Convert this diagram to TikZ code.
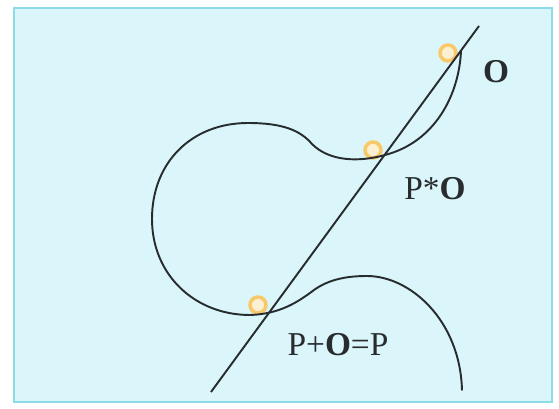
\documentclass[tikz,border=0pt]{standalone}
\usepackage{fontspec}
\setmainfont{Liberation Serif}
\usepackage{tikz}
\usetikzlibrary{positioning}
\definecolor{panelfill}{RGB}{218,246,250}
\definecolor{panelframe}{RGB}{140,220,232}
\definecolor{ringorange}{RGB}{248,200,105}
\definecolor{ringfill}{RGB}{252,240,210}
\definecolor{inkgray}{RGB}{40,44,46}
\tikzset{
    curvestroke/.style={draw=inkgray, line width=1.1pt, line cap=round, line join=round},
    secantline/.style={draw=inkgray, line width=1.1pt},
    pointring/.style={circle, draw=ringorange, fill=ringfill, line width=2pt, minimum size=0.32cm, inner sep=0pt},
    curvelabel/.style={font=\fontsize{19}{22}\selectfont, text=inkgray, inner sep=0pt}
}
\newcommand{\infpt}{\textbf{O}}

\begin{document}
\begin{tikzpicture}[x=0.02cm, y=-0.02cm]
        \useasboundingbox (0,0) rectangle (559,409);
        \draw[panelframe, fill=panelfill, line width=0.8pt] (14,8) rectangle (552,402);
        % marked points
        \node[pointring] (ptop) at (448,53) {};
        \node[pointring] (pmid) at (373,150) {};
        \node[pointring] (plow) at (258,305) {};
        % the curve, one branch
        \draw[curvestroke] (461,51) .. controls (459,95) and (435,142) .. (385,155)
            .. controls (360,162) and (330,162) .. (312,144)
            .. controls (300,130) and (282,123) .. (248,123)
            .. controls (192,123) and (152,162) .. (152,219)
            .. controls (152,275) and (195,315) .. (250,315)
            .. controls (280,314) and (298,302) .. (314,290)
            .. controls (328,280) and (345,276) .. (367,276)
            .. controls (410,276) and (460,320) .. (462,390);
        % the line through the points
        \coordinate (lineend) at (211,392);
        \coordinate (linestart) at (479,26);
        \draw[secantline] (lineend) -- (linestart);
        % labels
        \node[curvelabel] (infty) at (496,72) {\infpt};
        \node[curvelabel] (third) at (435,189) {P*\infpt};
        \node[curvelabel] (sum) at (338,345) {P+\infpt=P};
    \end{tikzpicture}
\end{document}
